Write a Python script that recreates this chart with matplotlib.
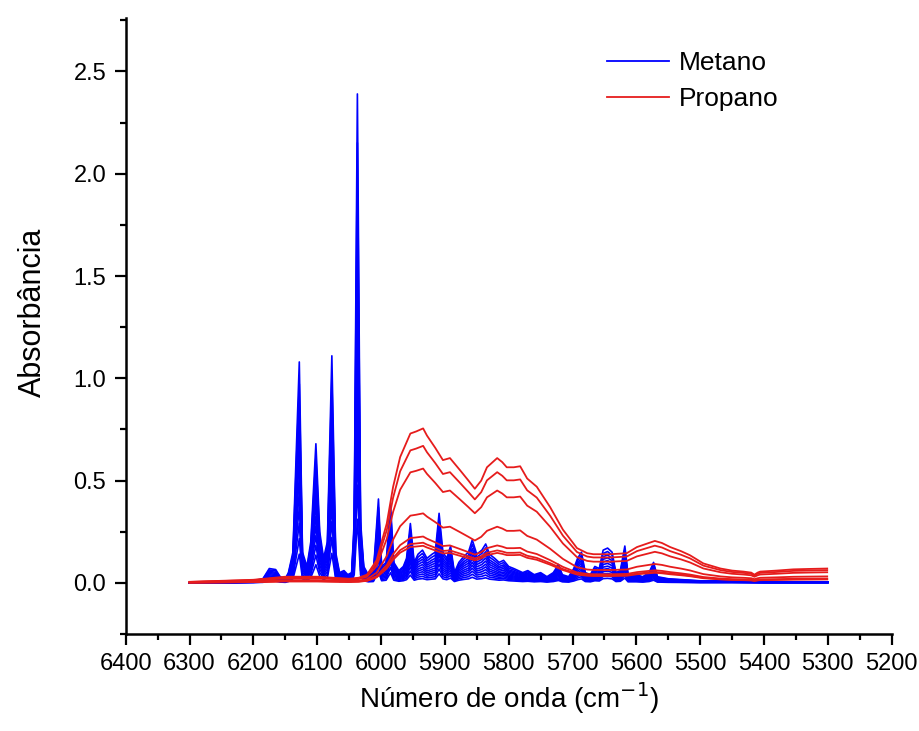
import matplotlib
matplotlib.use("Agg")
import matplotlib.pyplot as plt
from matplotlib.ticker import MultipleLocator

plt.rcParams['font.family'] = ['Liberation Sans', 'DejaVu Sans']

# ---- Data ----
# Methane: top-curve profile (wavenumber, absorbance)
blue_wn = [6300, 6250, 6200, 6185, 6175, 6165, 6158, 6150, 6145, 6138, 6128, 6123,
           6116, 6110, 6102, 6096, 6090, 6084, 6077, 6071, 6065, 6058, 6052, 6046,
           6042, 6037, 6032, 6027, 6020, 6012, 6004, 5999, 5992, 5985, 5980, 5972,
           5965, 5960, 5954, 5948, 5942, 5935, 5928, 5920, 5915, 5909, 5903, 5897,
           5891, 5885, 5878, 5870, 5863, 5857, 5850, 5842, 5836, 5830, 5822, 5815,
           5808, 5800, 5792, 5785, 5778, 5770, 5760, 5750, 5740, 5730, 5722, 5716,
           5706, 5698, 5692, 5686, 5680, 5672, 5665, 5658, 5652, 5645, 5638, 5632,
           5625, 5618, 5613, 5600, 5590, 5580, 5573, 5567, 5550, 5500, 5450, 5400,
           5350, 5300]
blue_abs = [0.0, 0.0, 0.01, 0.02, 0.07, 0.065, 0.03, 0.02, 0.05, 0.15, 1.08, 0.15,
            0.08, 0.2, 0.68, 0.25, 0.12, 0.2, 1.11, 0.15, 0.05, 0.06, 0.04, 0.05,
            0.3, 2.39, 0.3, 0.08, 0.04, 0.05, 0.41, 0.08, 0.1, 0.38, 0.1, 0.06,
            0.08, 0.12, 0.29, 0.1, 0.14, 0.16, 0.12, 0.14, 0.15, 0.34, 0.15, 0.12,
            0.18, 0.05, 0.1, 0.13, 0.15, 0.21, 0.14, 0.16, 0.19, 0.14, 0.12, 0.1,
            0.11, 0.08, 0.07, 0.06, 0.05, 0.06, 0.04, 0.05, 0.03, 0.05, 0.09, 0.04,
            0.03, 0.07, 0.12, 0.15, 0.05, 0.04, 0.08, 0.07, 0.16, 0.17, 0.15, 0.05,
            0.06, 0.18, 0.04, 0.04, 0.03, 0.05, 0.10, 0.03, 0.02, 0.01, 0.01, 0.005,
            0.005, 0.005]
# relative concentration of each methane curve
blue_scales = [1.0, 0.9, 0.8, 0.72, 0.64, 0.56, 0.48, 0.41, 0.34, 0.27, 0.2, 0.13]

# Propane: top-curve profile
red_wn = [6300, 6200, 6150, 6100, 6050, 6035, 6022, 6007, 5991, 5981, 5970, 5954,
          5945, 5934, 5928, 5915, 5903, 5892, 5876, 5863, 5853, 5843, 5834, 5818,
          5810, 5803, 5792, 5782, 5771, 5756, 5735, 5715, 5693, 5677, 5667, 5640,
          5615, 5599, 5585, 5571, 5560, 5547, 5530, 5516, 5495, 5468, 5450, 5432,
          5420, 5415, 5410, 5406, 5380, 5354, 5330, 5301]
red_abs = [0.005, 0.015, 0.03, 0.03, 0.02, 0.025, 0.04, 0.11, 0.29, 0.47, 0.615, 0.73,
           0.74, 0.755, 0.72, 0.66, 0.6, 0.61, 0.55, 0.5, 0.46, 0.5, 0.565, 0.61,
           0.59, 0.565, 0.565, 0.57, 0.51, 0.47, 0.37, 0.26, 0.17, 0.145, 0.14, 0.14,
           0.145, 0.175, 0.19, 0.205, 0.195, 0.175, 0.155, 0.135, 0.095, 0.07, 0.06, 0.055,
           0.05, 0.04, 0.05, 0.055, 0.06, 0.066, 0.068, 0.07]
red_scales = [1.0, 0.887, 0.74, 0.45, 0.30, 0.26, 0.24]

xticks = [6400, 6300, 6200, 6100, 6000, 5900, 5800, 5700, 5600, 5500, 5400, 5300, 5200]
yticks = [0.0, 0.5, 1.0, 1.5, 2.0, 2.5]

# ---- Figure ----
fig = plt.figure(figsize=(9.2, 7.31), dpi=100)
ax = fig.add_axes([0.1366, 0.1327, 0.8326, 0.8423])

for i, s in enumerate(blue_scales):
    ax.plot(blue_wn, [s * v for v in blue_abs], color='#0000ff', lw=1.2,
            label='Metano' if i == 0 else None, zorder=2)
for i, s in enumerate(red_scales):
    ax.plot(red_wn, [s * v for v in red_abs], color='#e61c1c', lw=1.3,
            label='Propano' if i == 0 else None, zorder=3)

ax.set_xlim(6400, 5200)
ax.set_ylim(-0.25, 2.76)
ax.set_xticks(xticks)
ax.set_xticklabels([str(t) for t in xticks])
ax.set_yticks(yticks)
ax.set_yticklabels([f"{t:.1f}" for t in yticks])
ax.xaxis.set_minor_locator(MultipleLocator(50))
ax.yaxis.set_minor_locator(MultipleLocator(0.25))

for side in ['top', 'right']:
    ax.spines[side].set_visible(False)
for side in ['left', 'bottom']:
    ax.spines[side].set_linewidth(1.8)

ax.tick_params(which='major', direction='out', length=8, width=1.6, labelsize=17, pad=6)
ax.tick_params(which='minor', direction='out', length=4.5, width=1.6)

ax.set_xlabel('Número de onda (cm$^{-1}$)', fontsize=20)
ax.set_ylabel('Absorbância', fontsize=22)
ax.xaxis.set_label_coords(0.5, -0.075)
ax.yaxis.set_label_coords(-0.101, 0.523)

leg = ax.legend(loc='upper left', bbox_to_anchor=(0.598, 0.985), frameon=False,
                fontsize=19, handlelength=2.35, handletextpad=0.35, labelspacing=0.45)
for h in leg.get_lines():
    h.set_linewidth(1.3)

fig.savefig('out.png', dpi=100)
